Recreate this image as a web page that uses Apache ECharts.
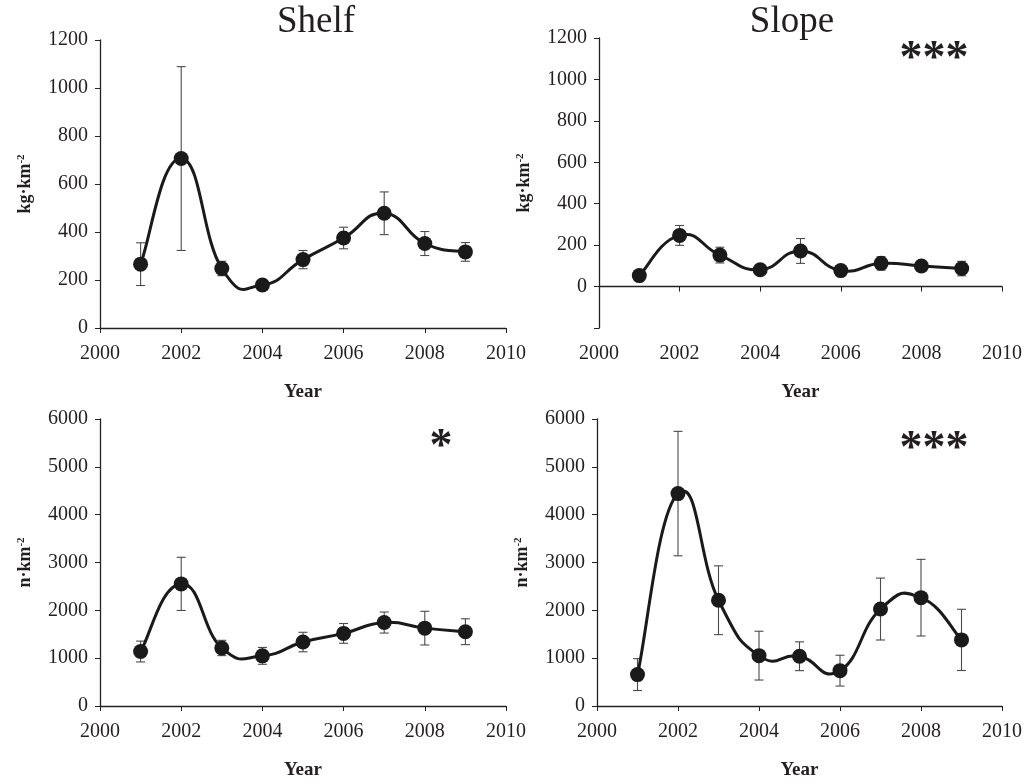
<!DOCTYPE html>
<html><head><meta charset="utf-8">
<script src="https://cdn.jsdelivr.net/npm/echarts@6/dist/echarts.min.js"></script>
<style>html,body{margin:0;padding:0;background:#fff}#c{width:1025px;height:781px}</style>
</head><body><div id="c"></div>
<script>
// ---- data ----
const years = [2001, 2002, 2003, 2004, 2005, 2006, 2007, 2008, 2009];
const shelfKg    = [266, 706, 248, 179, 285, 375, 478, 352, 317];
const shelfKgErr = [89, 383, 30, 20, 38, 45, 89, 50, 39];
const slopeKg    = [53, 247, 152, 81, 172, 77, 112, 99, 87];
const slopeKgErr = [5, 48, 38, 8, 60, 8, 32, 12, 35];
const shelfN     = [1139, 2553, 1213, 1048, 1337, 1518, 1745, 1628, 1553];
const shelfNErr  = [218, 556, 160, 176, 204, 207, 220, 352, 270];
const slopeN     = [657, 4441, 2211, 1053, 1040, 739, 2027, 2265, 1382];
const slopeNErr  = [333, 1301, 719, 510, 301, 322, 647, 801, 640];
const panelTitles = ['Shelf', 'Slope'];
const yUnitNames = ['kg·km', 'kg·km', 'n·km', 'n·km'];
const significance = ['', '***', '*', '***'];
const xAxisName = 'Year';

// ---- layout / style ----
const SERIF = '"Liberation Serif","Times New Roman",serif';
const TXT = '#231f20';
const panels = [
  {vals: shelfKg, err: shelfKgErr, grid: {left: 100, top: 40, width: 406, height: 288}, y: {min: 0, max: 1200, interval: 200}},
  {vals: slopeKg, err: slopeKgErr, grid: {left: 599, top: 38, width: 405, height: 290}, y: {min: -200, max: 1200, interval: 200}},
  {vals: shelfN, err: shelfNErr, grid: {left: 100, top: 419, width: 406, height: 290}, y: {min: 0, max: 6000, interval: 1000}},
  {vals: slopeN, err: slopeNErr, grid: {left: 597, top: 419, width: 407, height: 292}, y: {min: 0, max: 6000, interval: 1000}}
];
const K = 0.25; // smoothing tension

const grid = [], xAxis = [], yAxis = [], series = [];
panels.forEach((p, pi) => {
  grid.push(p.grid);
  xAxis.push({
    gridIndex: pi, type: 'value', min: 2000, max: 2010, interval: 2,
    axisLine: {show: true, lineStyle: {color: '#222', width: 1.3}},
    axisTick: {show: true, length: 5, lineStyle: {color: '#222'}},
    axisLabel: {fontFamily: SERIF, fontSize: 20, color: TXT, margin: 16, formatter: v => String(v)},
    splitLine: {show: false},
    name: xAxisName, nameLocation: 'middle', nameGap: 55,
    nameTextStyle: {fontFamily: SERIF, fontSize: 19, fontWeight: 'bold', color: TXT}
  });
  yAxis.push({
    gridIndex: pi, type: 'value', min: p.y.min, max: p.y.max, interval: p.y.interval,
    axisLine: {show: true, lineStyle: {color: '#222', width: 1.3}},
    axisTick: {show: true, length: 5, lineStyle: {color: '#222'}},
    axisLabel: {fontFamily: SERIF, fontSize: 20, color: TXT, margin: 12, formatter: v => v < 0 ? '' : String(v)},
    splitLine: {show: false},
    name: '{a|' + yUnitNames[pi] + '}{s|-2}', nameLocation: 'middle', nameGap: 66, nameRotate: 90,
    nameTextStyle: {
      rich: {
        a: {fontFamily: SERIF, fontSize: 18, fontWeight: 'bold', color: TXT},
        s: {fontFamily: SERIF, fontSize: 11, fontWeight: 'bold', color: TXT, verticalAlign: 'top'}
      }
    }
  });
  const vals = p.vals, err = p.err, n = years.length;
  // error bars
  series.push({
    type: 'custom', xAxisIndex: pi, yAxisIndex: pi, z: 1, silent: true,
    data: years.map((y, i) => [y, vals[i] - err[i], vals[i] + err[i]]),
    encode: {x: 0, y: [1, 2]},
    renderItem: (params, api) => {
      const lo = api.coord([api.value(0), api.value(1)]);
      const hi = api.coord([api.value(0), api.value(2)]);
      const c = 4.5;
      const st = {stroke: '#4a4a4a', lineWidth: 1.1};
      return {type: 'group', children: [
        {type: 'line', shape: {x1: lo[0], y1: lo[1], x2: hi[0], y2: hi[1]}, style: st},
        {type: 'line', shape: {x1: lo[0] - c, y1: lo[1], x2: lo[0] + c, y2: lo[1]}, style: st},
        {type: 'line', shape: {x1: hi[0] - c, y1: hi[1], x2: hi[0] + c, y2: hi[1]}, style: st}
      ]};
    }
  });
  // smoothed curve (Catmull-Rom style bezier segments through the data points)
  series.push({
    type: 'custom', xAxisIndex: pi, yAxisIndex: pi, z: 2, silent: true,
    data: years.map((y, i) => [y, vals[i]]),
    encode: {x: 0, y: 1},
    renderItem: (params, api) => {
      const i = params.dataIndex;
      if (i >= n - 1) return null;
      const pt = j => { j = Math.max(0, Math.min(n - 1, j)); return api.coord([years[j], vals[j]]); };
      const p0 = pt(i - 1), p1 = pt(i), p2 = pt(i + 1), p3 = pt(i + 2);
      return {
        type: 'bezierCurve',
        shape: {
          x1: p1[0], y1: p1[1], x2: p2[0], y2: p2[1],
          cpx1: p1[0] + K * (p2[0] - p0[0]), cpy1: p1[1] + K * (p2[1] - p0[1]),
          cpx2: p2[0] - K * (p3[0] - p1[0]), cpy2: p2[1] - K * (p3[1] - p1[1])
        },
        style: {stroke: '#1a1a1a', lineWidth: 3, fill: null, lineCap: 'round'}
      };
    }
  });
  // markers
  series.push({
    type: 'scatter', xAxisIndex: pi, yAxisIndex: pi, z: 3, silent: true,
    symbol: 'circle', symbolSize: 15,
    itemStyle: {color: '#1a1a1a', opacity: 1},
    data: years.map((y, i) => [y, vals[i]])
  });
});

const graphic = [
  {type: 'text', x: 316, y: 22, style: {text: panelTitles[0], font: '37px ' + SERIF, fill: TXT, textAlign: 'center', textVerticalAlign: 'middle'}},
  {type: 'text', x: 792, y: 22, style: {text: panelTitles[1], font: '37px ' + SERIF, fill: TXT, textAlign: 'center', textVerticalAlign: 'middle'}},
  {type: 'text', x: 934, y: 60, style: {text: significance[1], font: 'bold 46px ' + SERIF, fill: TXT, textAlign: 'center', textVerticalAlign: 'middle'}},
  {type: 'text', x: 441, y: 448, style: {text: significance[2], font: 'bold 46px ' + SERIF, fill: TXT, textAlign: 'center', textVerticalAlign: 'middle'}},
  {type: 'text', x: 934, y: 450, style: {text: significance[3], font: 'bold 46px ' + SERIF, fill: TXT, textAlign: 'center', textVerticalAlign: 'middle'}}
];

const chart = echarts.init(document.getElementById('c'), null, {renderer: 'canvas'});
chart.setOption({animation: false, backgroundColor: '#fff', grid, xAxis, yAxis, series, graphic});
</script></body></html>
